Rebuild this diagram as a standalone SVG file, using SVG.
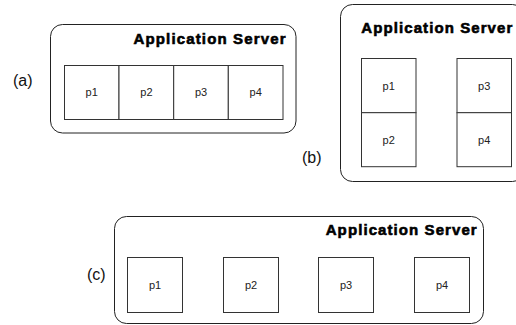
<svg xmlns="http://www.w3.org/2000/svg" width="516" height="325" viewBox="0 0 516 325">
<style>
.server{fill:#fff;stroke:#222;stroke-width:1}
.proc{fill:#fff;stroke:#333;stroke-width:1}
.title{font-family:"Liberation Sans",Arial,sans-serif;font-weight:bold;font-size:15px;fill:#000;stroke:#000;stroke-width:0.6;text-anchor:end}
.plabel{font-family:"Liberation Sans",Arial,sans-serif;font-size:11px;fill:#222;text-anchor:middle}
.tag{font-family:"Liberation Sans",Arial,sans-serif;font-size:16px;fill:#111}
</style>
<rect width="516" height="325" fill="#fff"/>
<g id="connectors"></g>
<g id="label-a"><text class="tag" x="13" y="86">(a)</text></g>
<g id="server-a">
<rect class="server" x="50.5" y="24.5" width="245.5" height="108.5" rx="12"/>
<text class="title" x="285.5" y="44" textLength="152" lengthAdjust="spacing">Application Server</text>
</g>
<g id="a-p1"><rect class="proc" x="64.5" y="65.5" width="54.5" height="54"/><text class="plabel" x="91.7" y="96">p1</text></g>
<g id="a-p2"><rect class="proc" x="119" y="65.5" width="54.7" height="54"/><text class="plabel" x="146.4" y="96">p2</text></g>
<g id="a-p3"><rect class="proc" x="173.7" y="65.5" width="54.6" height="54"/><text class="plabel" x="201" y="96">p3</text></g>
<g id="a-p4"><rect class="proc" x="228.3" y="65.5" width="54.7" height="54"/><text class="plabel" x="255.7" y="96">p4</text></g>

<g id="label-b"><text class="tag" x="302" y="163">(b)</text></g>
<g id="server-b">
<rect class="server" x="340.5" y="4.5" width="184" height="177" rx="12"/>
<text class="title" x="512.3" y="33" textLength="151" lengthAdjust="spacing">Application Server</text>
</g>
<g id="b-p1"><rect class="proc" x="361.5" y="58.5" width="54.5" height="54.2"/><text class="plabel" x="388.7" y="89.5">p1</text></g>
<g id="b-p2"><rect class="proc" x="361.5" y="112.7" width="54.5" height="54"/><text class="plabel" x="388.7" y="143.7">p2</text></g>
<g id="b-p3"><rect class="proc" x="457" y="58.5" width="54.5" height="54.2"/><text class="plabel" x="484.2" y="89.5">p3</text></g>
<g id="b-p4"><rect class="proc" x="457" y="112.7" width="54.5" height="54"/><text class="plabel" x="484.2" y="143.7">p4</text></g>

<g id="label-c"><text class="tag" x="87" y="280">(c)</text></g>
<g id="server-c">
<rect class="server" x="114.5" y="216.5" width="369" height="107" rx="12"/>
<text class="title" x="476.7" y="235" textLength="151" lengthAdjust="spacing">Application Server</text>
</g>
<g id="c-p1"><rect class="proc" x="127.5" y="257.5" width="55" height="55"/><text class="plabel" x="155" y="289">p1</text></g>
<g id="c-p2"><rect class="proc" x="223.5" y="257.5" width="55" height="55"/><text class="plabel" x="251" y="289">p2</text></g>
<g id="c-p3"><rect class="proc" x="318.5" y="257.5" width="55" height="55"/><text class="plabel" x="346" y="289">p3</text></g>
<g id="c-p4"><rect class="proc" x="414.5" y="257.5" width="55" height="55"/><text class="plabel" x="442" y="289">p4</text></g>
</svg>
